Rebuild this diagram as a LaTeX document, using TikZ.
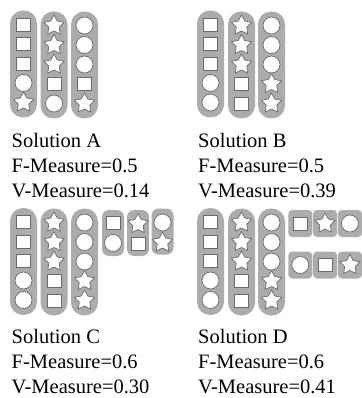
\documentclass[tikz,border=0pt]{standalone}
\usepackage{fontspec}
\setmainfont{Liberation Serif}
\usetikzlibrary{shapes.geometric, positioning}
\definecolor{pillgray}{RGB}{172, 172, 172}
\definecolor{edgegray}{RGB}{105, 105, 105}

\begin{document}
\begin{tikzpicture}[
    x=1pt, y=1pt,
    pill/.style={rectangle, fill=pillgray, rounded corners=13pt, minimum width=27pt, minimum height=107pt, inner sep=0pt},
    smallpill/.style={rectangle, fill=pillgray, rounded corners=7pt, minimum width=22pt, minimum height=46pt, inner sep=0pt},
    cell/.style={rectangle, fill=pillgray, rounded corners=4pt, minimum width=24pt, minimum height=27pt, inner sep=0pt},
    sqmark/.style={rectangle, draw=edgegray, fill=white, line width=0.7pt, minimum width=14pt, minimum height=13pt, inner sep=0pt},
    circmark/.style={circle, draw=edgegray, fill=white, line width=0.7pt, minimum size=17pt, inner sep=0pt},
    starmark/.style={star, star points=5, star point ratio=1.9, draw=edgegray, fill=white, line width=0.7pt, minimum size=21pt, inner sep=0pt},
    caption/.style={anchor=base west, inner sep=0pt, font=\fontsize{20.5}{25}\selectfont}
]
\useasboundingbox (0,0) rectangle (361,-398);

% Solution A
\node[pill] (pA1) at (23.5,-64) {};
\node[pill] (pA2) at (54,-65) {};
\node[pill] (pA3) at (84.5,-65) {};
\foreach \s [count=\i] in {sqmark,sqmark,sqmark,circmark,starmark}
  \node[\s] (a1\i) at (23.5,{-5-19.5*\i}) {};
\foreach \s [count=\i] in {starmark,starmark,starmark,sqmark,circmark}
  \node[\s] (a2\i) at (54,{-6-19.5*\i}) {};
\foreach \s [count=\i] in {circmark,circmark,circmark,sqmark,starmark}
  \node[\s] (a3\i) at (84.5,{-6-19.5*\i}) {};

% Solution B
\node[pill] (pB1) at (210.5,-64) {};
\node[pill] (pB2) at (241.5,-65) {};
\node[pill] (pB3) at (271.5,-65) {};
\foreach \s [count=\i] in {sqmark,sqmark,sqmark,circmark,circmark}
  \node[\s] (b1\i) at (210.5,{-5-19.5*\i}) {};
\foreach \s [count=\i] in {starmark,starmark,starmark,sqmark,sqmark}
  \node[\s] (b2\i) at (241.5,{-6-19.5*\i}) {};
\foreach \s [count=\i] in {circmark,circmark,circmark,starmark,starmark}
  \node[\s] (b3\i) at (271.5,{-6-19.5*\i}) {};

% Solution C
\node[pill] (pC1) at (23.5,-261.5) {};
\node[pill] (pC2) at (54,-262) {};
\node[pill] (pC3) at (84.5,-262) {};
\foreach \s [count=\i] in {sqmark,sqmark,sqmark,circmark,circmark}
  \node[\s] (c1\i) at (23.5,{-202.5-19.5*\i}) {};
\foreach \s [count=\i] in {starmark,starmark,starmark,sqmark,sqmark}
  \node[\s] (c2\i) at (54,{-203-19.5*\i}) {};
\foreach \s [count=\i] in {circmark,circmark,circmark,starmark,starmark}
  \node[\s] (c3\i) at (84.5,{-203-19.5*\i}) {};
\node[smallpill] (pC4) at (113,-233) {};
\node[smallpill] (pC5) at (138,-233) {};
\node[smallpill] (pC6) at (162.5,-231.5) {};
\node[sqmark] (c41) at (113,-222.5) {};
\node[circmark] (c42) at (113,-243) {};
\node[starmark] (c51) at (138,-224) {};
\node[sqmark] (c52) at (138,-243.5) {};
\node[circmark] (c61) at (162.5,-222.5) {};
\node[starmark] (c62) at (162.5,-242.5) {};

% Solution D
\node[pill] (pD1) at (210.5,-261.5) {};
\node[pill] (pD2) at (241.5,-262) {};
\node[pill] (pD3) at (271.5,-262) {};
\foreach \s [count=\i] in {sqmark,sqmark,sqmark,circmark,circmark}
  \node[\s] (d1\i) at (210.5,{-202.5-19.5*\i}) {};
\foreach \s [count=\i] in {starmark,starmark,starmark,sqmark,sqmark}
  \node[\s] (d2\i) at (241.5,{-203-19.5*\i}) {};
\foreach \s [count=\i] in {circmark,circmark,circmark,starmark,starmark}
  \node[\s] (d3\i) at (271.5,{-203-19.5*\i}) {};
\foreach \s [count=\i] in {sqmark,starmark,circmark}
  \node[cell] (dt\i) at ({275.5+24.8*\i},-223.5) {};
\foreach \s [count=\i] in {circmark,sqmark,starmark}
  \node[cell] (db\i) at ({275.5+24.8*\i},-265) {};
\foreach \s [count=\i] in {sqmark,starmark,circmark}
  \node[\s] at (dt\i) {};
\foreach \s [count=\i] in {circmark,sqmark,starmark}
  \node[\s] at (db\i) {};

% Labels
\node[caption] (solA) at (11.5,-147) {Solution A};
\node[caption] (fA) at (11.5,-172) {F-Measure=0.5};
\node[caption] (vA) at (11.5,-197) {V-Measure=0.14};
\node[caption] (solB) at (198,-147) {Solution B};
\node[caption] (fB) at (198,-172) {F-Measure=0.5};
\node[caption] (vB) at (198,-197) {V-Measure=0.39};
\node[caption] (solC) at (11.5,-343) {Solution C};
\node[caption] (fC) at (11.5,-368) {F-Measure=0.6};
\node[caption] (vC) at (11.5,-393) {V-Measure=0.30};
\node[caption] (solD) at (198,-343) {Solution D};
\node[caption] (fD) at (198,-368) {F-Measure=0.6};
\node[caption] (vD) at (198,-393) {V-Measure=0.41};

\end{tikzpicture}
\end{document}
